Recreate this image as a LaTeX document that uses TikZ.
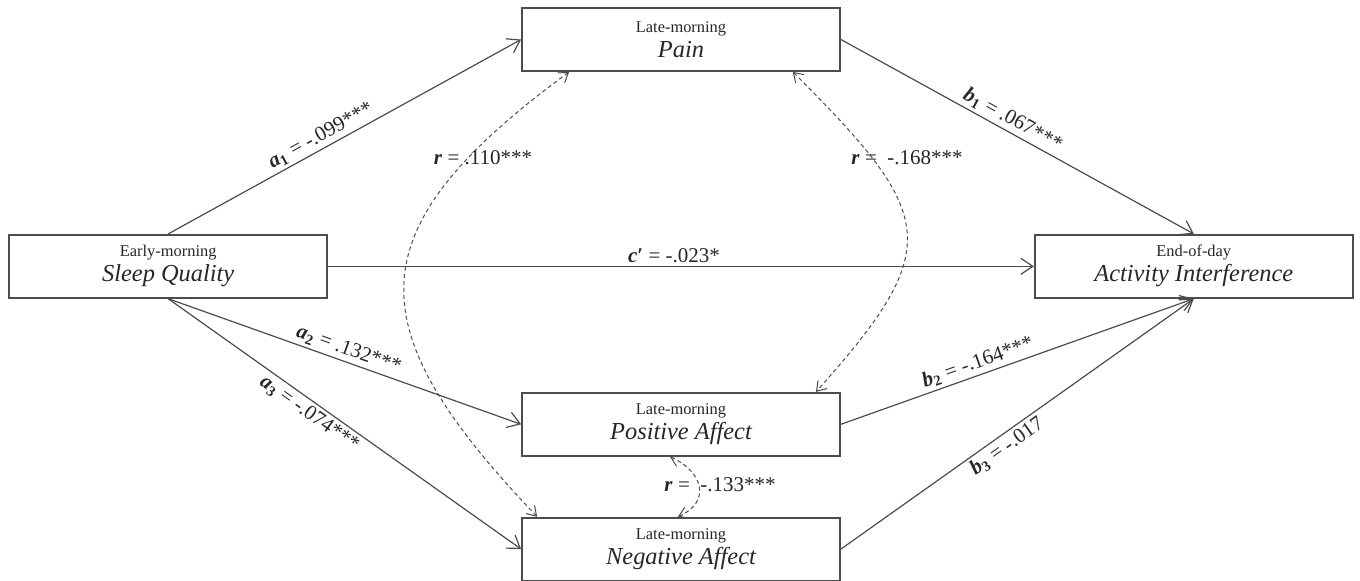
\documentclass[tikz,border=0pt]{standalone}
\usepackage{fontspec}
\setmainfont{Liberation Serif}
\usetikzlibrary{positioning,arrows.meta}

\newcommand{\vtext}[2]{#1\\{\fontsize{12.2}{12.5}\selectfont\itshape #2}}
\newcommand{\bvar}[2]{\textbf{\textit{#1}\textsubscript{#2}}}

\tikzset{
  var/.style={draw=black!70, line width=0.9pt, minimum width=159pt, minimum height=31.5pt,
    inner sep=0pt, align=center, text=black!85, font=\fontsize{8.2}{12.5}\selectfont},
  causal/.style={draw=black!70, line width=0.6pt, -{Straight Barb[length=6pt,width=8pt]}},
  corr/.style={draw=black!70, line width=0.5pt, dash pattern=on 2pt off 1.5pt,
    {Straight Barb[length=4.5pt,width=6pt]}-{Straight Barb[length=4.5pt,width=6pt]}},
  coef/.style={font=\fontsize{10.5}{12}\selectfont, text=black!85, inner sep=1.5pt},
}

\begin{document}
\begin{tikzpicture}[x=0.5pt,y=-0.5pt]
  \useasboundingbox (0,0) rectangle (1360,580);

  \node[var] (pain) at (681,39.5) {\vtext{Late-morning}{Pain}};

  \node[var, below left=81pt and 96.5pt of pain] (sleep) {\vtext{Early-morning}{Sleep Quality}};
  \node[var, below right=81pt and 96.5pt of pain] (act) {\vtext{End-of-day}{Activity Interference}};

  \node[var, below=160pt of pain] (pos) {\vtext{Late-morning}{Positive Affect}};
  \node[var, below=30pt of pos] (neg) {\vtext{Late-morning}{Negative Affect}};

  % direct paths
  \draw[causal] (sleep.north) -- node[coef, sloped, above, pos=0.45] {\bvar{a}{1} = -.099***} (pain.west);
  \draw[causal] (pain.east) -- node[coef, sloped, above, pos=0.47] {\bvar{b}{1} = .067***} (act.north);
  \draw[causal] (sleep.east) -- node[coef, above, pos=0.49] {\textbf{\textit{c}′} = -.023*} (act.west);
  \draw[causal] (sleep.south) -- node[coef, sloped, above, pos=0.5] {\bvar{a}{2} = .132***} (pos.west);
  \draw[causal] (sleep.south) -- node[coef, sloped, below, pos=0.42] {\bvar{a}{3} = -.074***} (neg.west);
  \draw[causal] (pos.east) -- node[coef, sloped, above, pos=0.4] {\bvar{b}{2} = -.164***} (act.south);
  \draw[causal] (neg.east) -- node[coef, sloped, below, pos=0.45] {\bvar{b}{3} = -.017} (act.south);

  % correlations
  \draw[corr] ([xshift=24pt]pain.south west) .. controls +(-215,158) and +(-182,-191) .. ([xshift=8pt]neg.north west);
  \draw[corr] ([xshift=-24pt]pain.south east) .. controls +(143,143) and +(130,-145) .. ([xshift=-12.5pt]pos.north east);
  \draw[corr] ([xshift=-5.5pt]pos.south) .. controls +(35,16) and +(32,-14) .. ([xshift=-1.5pt]neg.north);

  \node[coef] (r1) at (483,158) {\textbf{\textit{r}} = .110***};
  \node[coef] (r2) at (907,158) {\textbf{\textit{r}} =\ \ -.168***};
  \node[coef] (r3) at (720,485) {\textbf{\textit{r}} =\ \ -.133***};
\end{tikzpicture}
\end{document}
